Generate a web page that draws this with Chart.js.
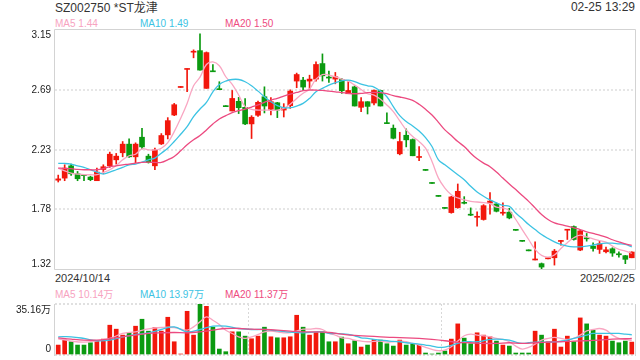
<!DOCTYPE html>
<html>
<head>
<meta charset="utf-8">
<script src="https://cdn.jsdelivr.net/npm/chart.js@4.4.1/dist/chart.umd.min.js"></script>
<style>
  body { margin: 0; width: 640px; height: 360px; overflow: hidden; position: relative; background: #fff;
         font-family: "Liberation Sans", Arial, "Noto Sans CJK SC", sans-serif; color: #333; }
  .t { position: absolute; white-space: nowrap; line-height: 14px; font-size: 10px; }
  canvas { position: absolute; left: 0; }
</style>
</head>
<body>
<div class="t" style="left:55px;top:1px;font-size:12px">SZ002750 *ST龙津</div>
<div class="t" style="right:5px;top:0px;font-size:12px">02-25 13:29</div>
<div class="t" style="left:55px;top:17px;color:#f7a3bf">MA5 1.44</div>
<div class="t" style="left:140px;top:17px;color:#3cc3e3">MA10 1.49</div>
<div class="t" style="left:225px;top:17px;color:#ee4b80">MA20 1.50</div>
<div class="t" style="left:55px;top:271px;font-size:11px">2024/10/14</div>
<div class="t" style="right:5px;top:271px;font-size:11px">2025/02/25</div>
<div class="t" style="left:55px;top:288px;color:#f7a3bf">MA5 10.14万</div>
<div class="t" style="left:140px;top:288px;color:#3cc3e3">MA10 13.97万</div>
<div class="t" style="left:225px;top:288px;color:#ee4b80">MA20 11.37万</div>

<canvas id="kChart" width="640" height="290" style="top:0"></canvas>
<canvas id="volChart" width="640" height="80" style="top:280px"></canvas>

<script>
// daily candles, 2024/10/14 .. 2025/02/25 (90 trading days)
const opens = [2.00,2.016,2.11,2.049,2.04,2.024,1.996,2.082,2.11,2.156,
  2.21,2.276,2.179,2.329,2.184,2.11,2.278,2.347,2.499,2.71,
  2.848,2.98,2.992,2.703,2.832,2.695,2.565,2.53,2.604,2.558,
  2.431,2.497,2.639,2.543,2.593,2.537,2.571,2.759,2.766,2.759,
  2.774,2.893,2.787,2.774,2.771,2.662,2.715,2.558,2.601,2.591,
  2.687,2.436,2.398,2.202,2.344,2.311,2.174,2.077,1.977,1.878,
  1.786,1.752,1.79,1.828,1.737,1.716,1.699,1.825,1.818,1.747,
  1.755,1.618,1.534,1.461,1.389,1.361,1.398,1.406,1.531,1.617,
  1.645,1.465,1.556,1.495,1.47,1.452,1.475,1.434,1.422,1.406];
const closes = [2.01,2.093,2.049,2.011,2.035,2.004,2.062,2.103,2.199,2.184,
  2.276,2.179,2.276,2.255,2.136,2.232,2.342,2.456,2.578,2.715,
  2.853,2.985,2.843,2.977,2.83,2.693,2.563,2.626,2.555,2.431,
  2.482,2.596,2.568,2.601,2.537,2.555,2.682,2.809,2.713,2.774,
  2.886,2.799,2.782,2.792,2.685,2.687,2.568,2.601,2.565,2.687,
  2.568,2.433,2.321,2.296,2.309,2.187,2.179,2.075,1.975,1.876,
  1.784,1.872,1.915,1.823,1.732,1.721,1.805,1.84,1.762,1.752,
  1.711,1.616,1.532,1.459,1.391,1.335,1.40,1.457,1.536,1.622,
  1.546,1.612,1.551,1.477,1.513,1.467,1.442,1.429,1.394,1.45];
const highs = [2.039,2.118,2.123,2.067,2.04,2.031,2.093,2.118,2.215,2.205,
  2.296,2.316,2.286,2.398,2.199,2.245,2.357,2.479,2.588,2.716,
  2.853,2.998,3.12,2.982,2.886,2.754,2.565,2.687,2.634,2.624,
  2.494,2.606,2.715,2.632,2.596,2.586,2.692,2.82,2.787,2.804,
  2.906,2.967,2.835,2.825,2.779,2.754,2.723,2.632,2.601,2.692,
  2.69,2.515,2.423,2.367,2.393,2.316,2.258,2.077,1.977,1.878,
  1.786,1.877,1.971,1.874,1.788,1.757,1.813,1.905,1.826,1.826,
  1.785,1.618,1.534,1.461,1.528,1.366,1.40,1.47,1.539,1.622,
  1.65,1.615,1.592,1.521,1.533,1.488,1.483,1.452,1.424,1.452];
const lows = [1.986,1.996,2.037,1.996,1.996,1.996,1.996,2.052,2.098,2.123,
  2.179,2.174,2.133,2.24,2.131,2.08,2.273,2.316,2.494,2.71,
  2.677,2.937,2.843,2.703,2.83,2.693,2.563,2.53,2.51,2.426,
  2.319,2.489,2.515,2.499,2.479,2.484,2.55,2.708,2.687,2.693,
  2.759,2.759,2.748,2.738,2.665,2.662,2.568,2.525,2.507,2.576,
  2.568,2.433,2.316,2.194,2.255,2.187,2.149,2.075,1.975,1.876,
  1.784,1.747,1.785,1.818,1.729,1.648,1.694,1.74,1.757,1.732,
  1.704,1.616,1.532,1.459,1.389,1.322,1.398,1.35,1.503,1.546,
  1.541,1.46,1.533,1.457,1.439,1.444,1.417,1.411,1.361,1.406];

const ma5 = [2.093,2.072,2.054,2.047,2.042,2.042,2.042,2.06,2.08,2.113,
  2.156,2.187,2.199,2.24,2.232,2.232,2.245,2.288,2.372,2.474,
  2.588,2.723,2.789,2.886,2.906,2.876,2.792,2.733,2.652,2.563,
  2.543,2.537,2.537,2.535,2.537,2.55,2.581,2.626,2.665,2.698,
  2.774,2.809,2.804,2.792,2.774,2.759,2.728,2.695,2.662,2.652,
  2.619,2.576,2.525,2.454,2.385,2.334,2.296,2.245,2.143,2.016,
  1.94,1.889,1.864,1.849,1.838,1.833,1.828,1.821,1.793,1.788,
  1.767,1.699,1.622,1.546,1.47,1.424,1.411,1.427,1.477,1.521,
  1.559,1.579,1.566,1.551,1.538,1.526,1.495,1.47,1.457,1.44];
const ma10 = [2.128,2.128,2.123,2.11,2.098,2.08,2.062,2.047,2.062,2.08,
  2.098,2.118,2.123,2.138,2.156,2.169,2.207,2.245,2.296,2.352,
  2.41,2.487,2.545,2.596,2.677,2.733,2.759,2.771,2.771,2.754,
  2.723,2.682,2.639,2.601,2.571,2.555,2.555,2.568,2.588,2.626,
  2.677,2.703,2.728,2.746,2.761,2.766,2.754,2.736,2.723,2.713,
  2.682,2.639,2.563,2.494,2.449,2.415,2.377,2.326,2.258,2.156,
  2.118,2.08,2.042,2.004,1.953,1.91,1.877,1.849,1.826,1.808,
  1.80,1.749,1.706,1.66,1.622,1.584,1.554,1.528,1.508,1.495,
  1.49,1.49,1.495,1.503,1.513,1.518,1.518,1.513,1.508,1.49];
const ma20 = [2.093,2.09,2.088,2.083,2.08,2.08,2.08,2.088,2.103,2.11,
  2.118,2.123,2.131,2.136,2.138,2.136,2.136,2.156,2.182,2.225,
  2.271,2.309,2.342,2.385,2.431,2.469,2.494,2.517,2.532,2.545,
  2.56,2.576,2.596,2.614,2.626,2.644,2.659,2.672,2.685,2.69,
  2.69,2.687,2.682,2.677,2.67,2.665,2.662,2.665,2.67,2.672,
  2.67,2.662,2.647,2.637,2.626,2.611,2.581,2.543,2.499,2.443,
  2.385,2.342,2.296,2.258,2.207,2.164,2.131,2.103,2.062,2.016,
  1.971,1.928,1.882,1.838,1.788,1.737,1.699,1.673,1.66,1.648,
  1.635,1.622,1.605,1.592,1.579,1.564,1.544,1.528,1.513,1.50];

// volume in 万 shares
const vols = [6.85,10.27,9.13,6.85,6.85,8.45,9.82,10.96,20.55,17.81,
  13.70,15.52,19.86,24.66,16.44,18.95,16.44,26.03,9.13,0.68,
  30.14,13.70,35.16,33.56,19.18,4.11,2.28,15.98,15.98,13.01,
  11.19,13.01,19.18,12.56,11.87,11.87,12.56,27.40,19.18,13.70,
  15.52,15.98,9.13,9.13,12.33,7.76,9.82,5.48,6.85,10.73,
  10.27,7.76,6.16,10.27,6.85,7.76,6.85,1.37,0.68,1.37,
  2.74,10.96,21.46,11.64,7.76,15.30,13.70,12.56,9.59,6.85,
  6.16,1.37,1.37,1.37,16.44,13.70,9.13,17.81,5.48,13.01,
  9.13,25.57,21.46,17.12,13.70,13.01,9.59,8.45,9.59,8.90];
const vma5 = [11.19,null,9.59,null,8.90,null,9.82,null,11.42,null,
  14.84,null,15.98,null,18.04,null,18.95,null,18.95,null,
  17.12,19.41,22.83,26.25,23.97,21.00,17.12,14.84,12.56,11.42,
  12.56,14.15,15.98,16.44,15.98,15.30,15.52,16.44,17.81,17.81,
  18.26,17.58,14.84,13.70,11.87,11.42,10.27,9.59,9.13,9.36,
  9.59,8.90,9.13,9.59,9.13,7.99,6.85,5.25,3.88,2.97,
  3.42,5.71,9.59,13.24,14.38,13.70,13.24,12.56,11.42,10.73,
  9.13,6.16,4.11,5.25,7.53,10.27,11.42,12.10,11.42,10.73,
  11.42,13.70,16.67,17.58,18.26,17.12,13.70,11.42,10.73,10.14];
const vma10 = [12.56,null,12.56,null,11.42,null,9.82,null,10.27,null,
  12.56,null,14.15,null,15.30,null,17.58,null,19.41,null,
  15.98,null,17.58,null,19.86,null,19.86,null,18.26,null,
  17.58,null,17.58,null,16.67,null,15.75,null,15.30,null,
  15.98,15.98,14.84,14.84,14.61,14.15,13.24,11.87,11.42,10.73,
  10.27,9.82,9.36,9.13,8.45,7.99,7.53,6.85,6.16,5.25,
  5.48,6.62,7.99,9.13,9.13,9.13,9.82,10.73,10.96,10.73,
  10.27,8.90,7.99,8.45,8.90,8.90,8.90,9.13,9.59,10.27,
  11.42,12.56,13.70,14.84,14.84,14.84,14.84,14.84,14.38,13.97];
const vma20 = [11.87,null,10.96,null,10.27,null,10.27,null,11.19,null,
  12.56,null,13.70,null,14.84,null,15.30,null,15.52,null,
  15.30,null,15.98,null,17.12,null,18.26,null,18.26,null,
  17.81,null,17.58,null,17.12,null,16.44,null,15.98,null,
  15.98,null,15.52,null,14.38,null,13.47,null,13.01,null,
  12.56,null,12.10,null,11.87,null,11.42,null,10.73,null,
  9.82,null,8.68,null,8.45,null,7.99,null,7.99,null,
  8.45,null,7.99,null,8.45,null,8.90,null,9.13,null,
  9.59,null,9.82,null,10.27,null,10.96,null,11.19,11.37];

const priceTicks = [1.32, 1.78, 2.23, 2.69, 3.15];
const volTicks = [0, 35.16];
const volTickLabels = ['0', '35.16万'];

const RED = '#f2170c', GREEN = '#0b9a10';
const C_MA5 = '#f9a6c2', C_MA10 = '#3cc3e3', C_MA20 = '#ec4a80';
const labels = opens.map((v, i) => i);
const candleColors = closes.map((c, i) => c >= opens[i] ? RED : GREEN);

// frame + y labels drawn off the chart's own scales
function framePlugin(opts) {
  return {
    id: 'frame',
    afterDraw(chart) {
      const { ctx, chartArea: a, scales: { y } } = chart;
      ctx.save();
      ctx.strokeStyle = '#d3d3d3';
      ctx.lineWidth = 1;
      ctx.beginPath();
      if (opts.full) {
        ctx.rect(a.left - 0.5, a.top - 0.5, a.right - a.left + 1, a.bottom - a.top + 1);
      } else {
        ctx.moveTo(a.left - 0.5, a.top); ctx.lineTo(a.left - 0.5, a.bottom + 1);
        ctx.moveTo(a.right + 0.5, a.top); ctx.lineTo(a.right + 0.5, a.bottom + 1);
      }
      ctx.stroke();
      ctx.fillStyle = '#222';
      ctx.font = '10px "Liberation Sans", Arial, "Noto Sans CJK SC"';
      ctx.textAlign = 'right';
      ctx.textBaseline = 'middle';
      opts.ticks.forEach((v, i) => {
        let py = y.getPixelForValue(v);
        if (i === 0) py -= opts.edge;
        if (i === opts.ticks.length - 1) py += opts.edge;
        ctx.fillText(opts.text[i], a.left - 4, py);
      });
      ctx.restore();
    }
  };
}

const lineDs = (label, data, color, order) => ({
  type: 'line', label, data, borderColor: color, borderWidth: 1.3, pointRadius: 0,
  tension: 0.4, spanGaps: true, order
});

new Chart(document.getElementById('kChart'), {
  type: 'bar',
  data: {
    labels,
    datasets: [
      lineDs('MA5', ma5, C_MA5, 2),
      lineDs('MA10', ma10, C_MA10, 1),
      lineDs('MA20', ma20, C_MA20, 0),
      { label: 'body', data: opens.map((o, i) => [o, closes[i]]), backgroundColor: candleColors,
        barThickness: 5, minBarLength: 1, grouped: false, order: 3 },
      { label: 'wick', data: lows.map((l, i) => [l, highs[i]]), backgroundColor: candleColors,
        barThickness: 1, minBarLength: 1, grouped: false, order: 4 }
    ]
  },
  options: {
    responsive: false, animation: false, events: [],
    layout: { padding: { left: 55, right: 5, top: 30, bottom: 21 } },
    plugins: { legend: { display: false }, tooltip: { enabled: false } },
    scales: {
      x: { display: false, offset: true },
      y: {
        min: 1.32, max: 3.15,
        afterBuildTicks: s => { s.ticks = priceTicks.map(v => ({ value: v })); },
        ticks: { display: false },
        border: { display: false, dash: [2, 2] },
        grid: { drawTicks: false, lineWidth: 2,
          color: c => (c.index === 0 || c.index === priceTicks.length - 1) ? 'rgba(0,0,0,0)' : '#e6e6e6' }
      }
    }
  },
  plugins: [framePlugin({ full: true, ticks: priceTicks, text: priceTicks.map(v => v.toFixed(2)), edge: 5 })]
});

new Chart(document.getElementById('volChart'), {
  type: 'bar',
  data: {
    labels,
    datasets: [
      lineDs('MA5', vma5, C_MA5, 2),
      lineDs('MA10', vma10, C_MA10, 1),
      lineDs('MA20', vma20, C_MA20, 0),
      { label: 'vol', data: vols, backgroundColor: candleColors, barThickness: 4, order: 3 }
    ]
  },
  options: {
    responsive: false, animation: false, events: [],
    layout: { padding: { left: 55, right: 5, top: 24, bottom: 5 } },
    plugins: { legend: { display: false }, tooltip: { enabled: false } },
    scales: {
      x: {
        offset: true,
        ticks: { display: false },
        border: { display: false, dash: [2, 2] },
        grid: { drawTicks: false, lineWidth: 1, offset: true,
          color: c => (c.index === 30 || c.index === 60) ? '#d8d8d8' : 'rgba(0,0,0,0)' }
      },
      y: {
        min: 0, max: 35.16,
        afterBuildTicks: s => { s.ticks = volTicks.map(v => ({ value: v })); },
        ticks: { display: false },
        border: { display: false, dash: [2, 2] },
        grid: { drawTicks: false, lineWidth: 2, color: '#e0e0e0' }
      }
    }
  },
  plugins: [framePlugin({ full: false, ticks: volTicks, text: volTickLabels, edge: 6 })]
});
</script>
</body>
</html>
